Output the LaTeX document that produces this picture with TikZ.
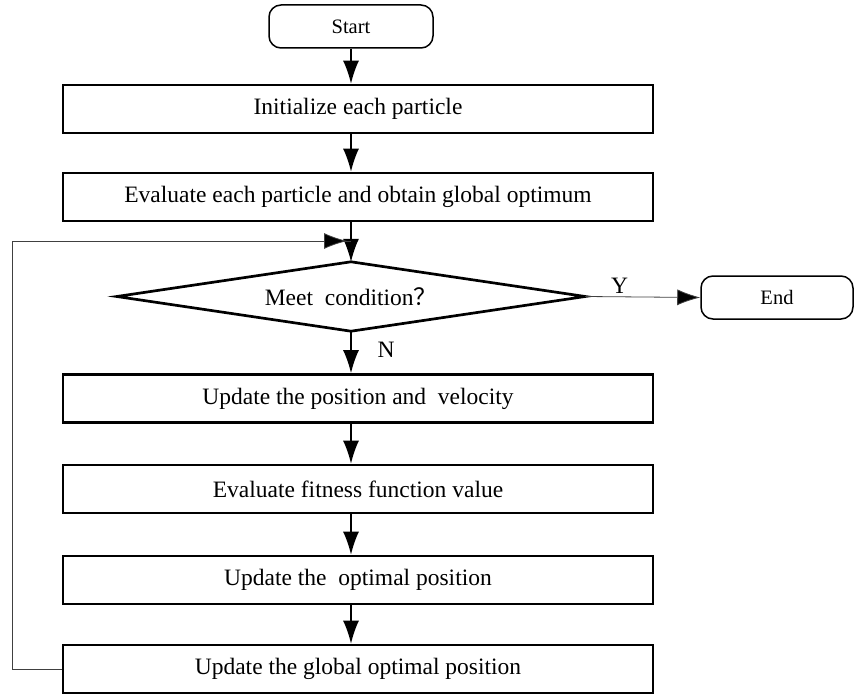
\documentclass[tikz,border=0pt]{standalone}
\usepackage{fontspec}
\setmainfont{Liberation Serif}
\newfontfamily\cjkfont{Noto Sans CJK SC}
\usetikzlibrary{arrows.meta}
\begin{document}
\begin{tikzpicture}[x=1pt,y=-1pt,
  procbox/.style={draw,line width=2.7pt,minimum width=590pt,minimum height=48pt,inner sep=0pt,font=\fontsize{23.5}{27}\selectfont},
  termbox/.style={draw,line width=1.5pt,rounded corners=12pt,minimum height=43pt,inner sep=0pt,font=\fontsize{20.5}{24}\selectfont},
  decbox/.style={minimum width=468pt,minimum height=69pt,inner sep=0pt,font=\fontsize{23.5}{27}\selectfont},
  decline/.style={line width=2.7pt,line join=miter},
  flow/.style={line width=1.4pt,-{Latex[length=23pt,width=16pt]}},
  thinflow/.style={line width=0.8pt,draw=black!75,-{Latex[length=23pt,width=16pt,fill=black]}},
  loopline/.style={line width=0.8pt,draw=black!75},
  lbl/.style={font=\fontsize{23.5}{27}\selectfont,inner sep=0pt}]
\useasboundingbox (0,0) rectangle (854,695);
\node[termbox,minimum width=164pt] (start) at (351,26.5) {Start};
\node[procbox] (b1) at (358,109) {Initialize each particle};
\node[procbox] (b2) at (358,197) {Evaluate each particle and obtain global optimum};
\node[decbox] (dec) at (351,296.5) {Meet\ \ condition{\cjkfont ？}};
\draw[decline] (dec.north) -- (dec.east) -- (dec.south) -- (dec.west) -- cycle;
\node[termbox,minimum width=152pt] (end) at (777,297.5) {End};
\node[procbox] (b3) at (358,398.5) {Update the position and\ \ velocity};
\node[procbox] (b4) at (358,489) {Evaluate fitness function value};
\node[procbox] (b5) at (358,580) {Update the\ \ optimal position};
\node[procbox] (b6) at (358,669) {Update the global optimal position};
\coordinate (merge) at (351,241);
\coordinate (cornerA) at (12,669);
\draw[flow] (start) -- (b1.north -| start);
\draw[flow] (b1.south -| start) -- (b2.north -| start);
\draw[flow] (b2.south -| start) -- (dec.north);
\draw[flow] (dec.south) -- (b3.north -| dec) node[lbl,pos=0.45,right=26pt] {N};
\draw[flow] (b3.south -| dec) -- (b4.north -| dec);
\draw[flow] (b4.south -| dec) -- (b5.north -| dec);
\draw[flow] (b5.south -| dec) -- (b6.north -| dec);
\draw[thinflow] (dec.east) -- (end.west) node[lbl,pos=0.3,above=3pt] {Y};
\draw[loopline] (b6.west) -- (cornerA) |- (merge);
\draw[thinflow,shorten >=4pt] (cornerA |- merge) -- (merge);
\end{tikzpicture}
\end{document}
